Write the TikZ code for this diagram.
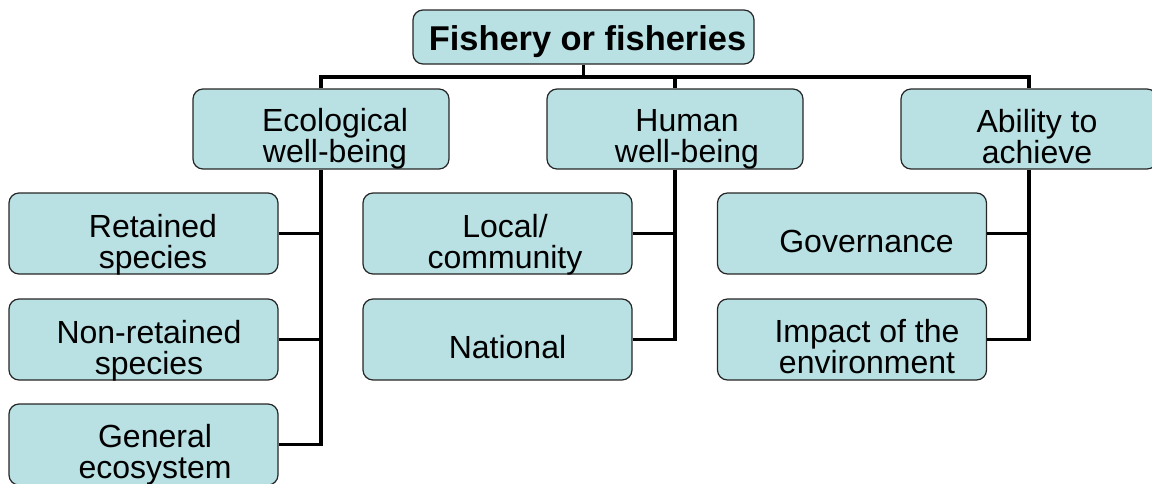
\documentclass[tikz,border=0pt]{standalone}
\usepackage{fontspec}
\setmainfont{Liberation Sans}
\usepackage{tikz}
\definecolor{boxfill}{RGB}{185,224,227}

\begin{document}
\begin{tikzpicture}[x=0.5pt,y=-0.5pt,
  box/.style={draw=black!85,line width=0.6pt,fill=boxfill,rounded corners=5pt,inner sep=0pt},
  topbox/.style={box,minimum width=170.5pt,minimum height=27pt},
  midbox/.style={box,minimum width=128pt,minimum height=40pt},
  leafbox/.style={box,minimum width=134.5pt,minimum height=40.5pt},
  lbl/.style={anchor=base,align=center,inner sep=0pt,font=\fontsize{16}{15.5}\selectfont},
  conn/.style={line width=1.8pt}]
\useasboundingbox (0,0) rectangle (1152,483);
\clip (0,0) rectangle (1152,483);
\coordinate (bus) at (0,77);
% boxes
\node[topbox] (root) at (583.5,37) {};
\node[midbox] (eco) at (321,129) {};
\node[midbox] (hum) at (675,129) {};
\node[midbox] (abil) at (1029,129) {};
\node[leafbox] (ret) at (143.5,233.5) {};
\node[leafbox] (non) at (143.5,339.5) {};
\node[leafbox] (gen) at (143.5,444.5) {};
\node[leafbox] (loc) at (497.5,233.5) {};
\node[leafbox] (nat) at (497.5,339.5) {};
\node[leafbox] (gov) at (852,233.5) {};
\node[leafbox] (imp) at (852,339.5) {};
% connectors
\draw[conn] (root.south) -- (root.south |- bus);
\draw[conn] (eco.north) -- (eco.north |- bus) -- (abil.north |- bus) -- (abil.north);
\draw[conn] (hum.north) -- (hum.north |- bus);
\draw[conn] (eco.south) |- (gen.east);
\draw[conn] (ret.east) -- (ret.east -| eco.south);
\draw[conn] (non.east) -- (non.east -| eco.south);
\draw[conn] (hum.south) |- (nat.east);
\draw[conn] (loc.east) -- (loc.east -| hum.south);
\draw[conn] (abil.south) |- (imp.east);
\draw[conn] (gov.east) -- (gov.east -| abil.south);
% labels
\node[lbl,font=\fontsize{17.2}{17}\selectfont\bfseries] (root-t) at (587.5,50) {Fishery or fisheries};
\node[lbl] (eco-t) at (335,162) {Ecological\\well-being};
\node[lbl] (hum-t) at (687,162) {Human\\well-being};
\node[lbl] (abil-t) at (1037,163) {Ability to\\achieve};
\node[lbl] (ret-t) at (153,268) {Retained\\species};
\node[lbl] (non-t) at (149,374) {Non-retained\\species};
\node[lbl] (gen-t) at (155,478) {General\\ecosystem};
\node[lbl] (loc-t) at (505,268) {Local/\\community};
\node[lbl] (nat-t) at (507.5,358) {National};
\node[lbl] (gov-t) at (866.5,252) {Governance};
\node[lbl] (imp-t) at (867,373) {Impact of the\\environment};
\end{tikzpicture}
\end{document}
